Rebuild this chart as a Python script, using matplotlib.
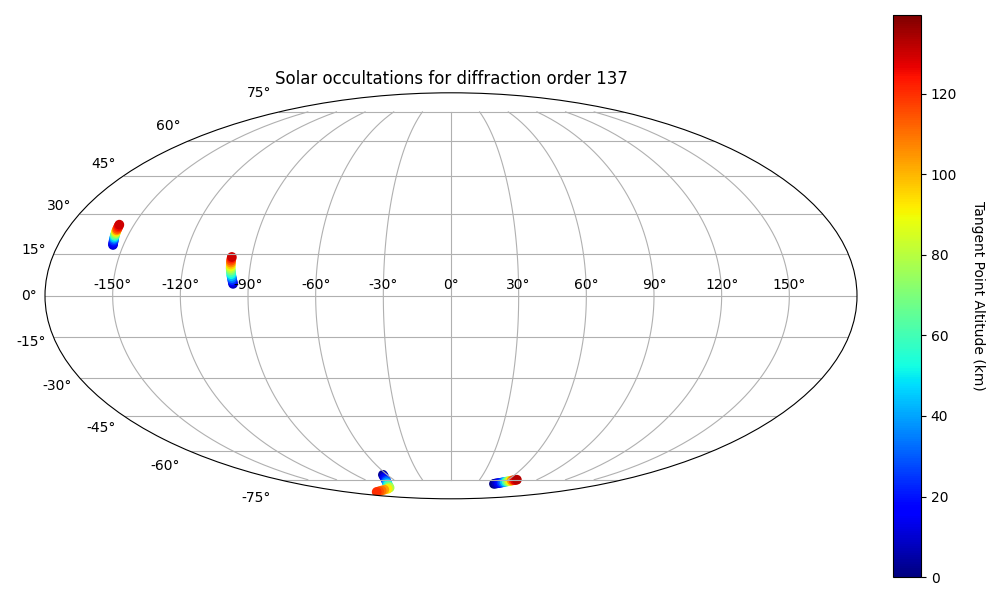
#!/usr/bin/env python3
import numpy as np
import matplotlib
matplotlib.use("Agg")
import matplotlib.pyplot as plt

# occultations, lon/lat in degrees, tangent altitude in km
lon_1 = [-154.8, -155.0, -155.2, -155.4, -155.6, -155.8, -156.0, -156.2, -156.3, -156.5, -156.6, -156.7, -156.8, -156.9, -157.0]
lat_1 = [18.4, 18.9, 19.5, 20.0, 20.6, 21.1, 21.7, 22.2, 22.8, 23.3, 23.8, 24.3, 24.9, 25.4, 25.9]
alt_1 = [10, 14, 19, 25, 33, 44, 56, 68, 80, 92, 104, 114, 120, 125, 130]

lon_2 = [-96.8, -97.0, -97.3, -97.5, -97.8, -98.0, -98.2, -98.4, -98.6, -98.7, -98.8, -98.9, -99.0, -99.0, -99.0]
lat_2 = [4.3, 5.0, 5.7, 6.4, 7.1, 7.8, 8.5, 9.2, 9.9, 10.6, 11.3, 12.0, 12.7, 13.4, 14.0]
alt_2 = [8, 16, 25, 34, 43, 52, 61, 70, 79, 88, 97, 106, 114, 122, 130]

lon_3 = [-64.0, -65.0, -66.5, -68.0, -70.0, -72.0, -74.5, -77.0, -80.0, -83.5, -91.0, -100.0, -109.0, -118.0, -127.6]
lat_3 = [-72.2, -73.0, -73.9, -74.8, -75.7, -76.5, -77.4, -78.2, -79.1, -80.0, -80.8, -81.4, -82.0, -82.5, -83.0]
alt_3 = [3, 8, 14, 20, 28, 36, 45, 55, 67, 78, 92, 103, 110, 115, 120]

lon_4 = [50.6, 51.8, 53.2, 54.5, 55.9, 57.2, 58.5, 59.8, 61.1, 62.4, 63.7, 65.0, 66.3, 67.6, 69.0]
lat_4 = [-77.5, -77.3, -77.2, -77.0, -76.9, -76.7, -76.5, -76.3, -76.1, -75.9, -75.7, -75.5, -75.3, -75.2, -75.0]
alt_4 = [0, 4, 8, 13, 18, 24, 33, 45, 60, 75, 90, 105, 118, 127, 133]

lons = [lon_1, lon_2, lon_3, lon_4]
lats = [lat_1, lat_2, lat_3, lat_4]
alts = [alt_1, alt_2, alt_3, alt_4]

fig = plt.figure(figsize=(10, 6))
ax = fig.add_axes([0.045, 0.168, 0.812, 0.678], projection="mollweide")
ax.set_title("Solar occultations for diffraction order 137")

for lon, lat, alt in zip(lons, lats, alts):
    sc = ax.scatter(np.radians(lon), np.radians(lat), c=alt, cmap="jet", vmin=0, vmax=139.6)

ax.grid(True)

cax = fig.add_axes([0.893, 0.0383, 0.028, 0.9367])
cbar = fig.colorbar(sc, cax=cax)
cbar.set_label("Tangent Point Altitude (km)", rotation=270, labelpad=20)

fig.savefig("out.png", dpi=100)
